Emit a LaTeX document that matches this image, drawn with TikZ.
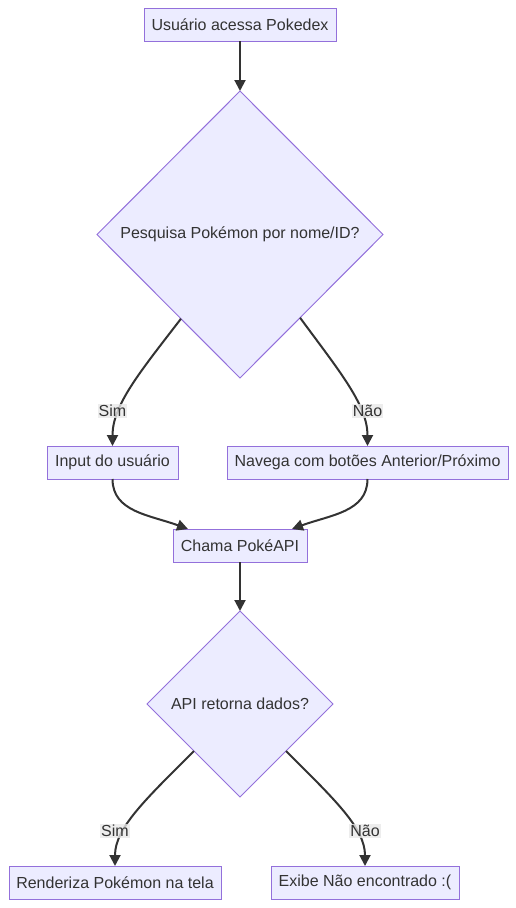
\documentclass[tikz,border=0pt]{standalone}
\usepackage{fontspec}
\setmainfont{Liberation Sans}
\usetikzlibrary{shapes.geometric,arrows.meta,calc}
\definecolor{nodefill}{HTML}{ECECFF}
\definecolor{nodeline}{HTML}{9370DB}
\definecolor{edgecol}{HTML}{333333}
\definecolor{labelbg}{HTML}{E8E8E8}
\tikzset{
  box/.style={draw=nodeline, fill=nodefill, line width=1pt, minimum height=33pt, inner xsep=0pt, inner ysep=0pt, outer sep=0pt, text=edgecol, font=\fontsize{16}{19}\selectfont},
  decision/.style={draw=nodeline, fill=nodefill, line width=1pt, shape=diamond, aspect=1, inner sep=0pt, outer sep=0pt, text=edgecol, font=\fontsize{16}{19}\selectfont},
  flow/.style={draw=edgecol, line width=2pt, -{Triangle[length=11pt,width=11pt]}},
  elabel/.style={fill=labelbg, fill opacity=0.8, text opacity=1, text=edgecol, inner sep=1pt, font=\fontsize{16}{19}\selectfont}
}
\begin{document}
\begin{tikzpicture}[x=1pt,y=-1pt]
\useasboundingbox (0,0) rectangle (516,908);
\node[box, minimum width=192pt] (n1) at (240,24.5) {Usuário acessa Pokedex};
\node[decision, minimum width=286pt, minimum height=287pt] (d1) at (240,234.5) {Pesquisa Pokémon por nome/ID?};
\node[box, minimum width=131pt] (n3) at (112.5,462.5) {Input do usuário};
\node[box, minimum width=281pt] (n4) at (367.5,462.5) {Navega com botões Anterior/Próximo};
\node[box, minimum width=134pt] (n5) at (240,545.5) {Chama PokéAPI};
\node[decision, minimum width=186pt, minimum height=186pt] (d2) at (240,704) {API retorna dados?};
\node[box, minimum width=212pt] (n7) at (115,882.5) {Renderiza Pokémon na tela};
\node[box, minimum width=188pt] (n8) at (365,882.5) {Exibe Não encontrado :(};

\coordinate (s1) at ($(d1.west)!0.587!(d1.south)$);
\coordinate (s2) at ($(d1.east)!0.58!(d1.south)$);
\coordinate (t3) at ($(n5.north west)+(15,0)$);
\coordinate (t4) at ($(n5.north east)+(-15,0)$);
\coordinate (s6) at ($(d2.west)!0.505!(d2.south)$);
\coordinate (s7) at ($(d2.east)!0.505!(d2.south)$);

\draw[flow] (n1.south) -- (d1.north);
\draw[flow] (s1) .. controls (140,372) and (112.5,405) .. (n3.north);
\draw[flow] (s2) .. controls (340,372) and (367.5,405) .. (n4.north);
\draw[flow] (n3.south) .. controls (112.5,512) and (150,515) .. (t3);
\draw[flow] (n4.south) .. controls (367.5,512) and (330,515) .. (t4);
\draw[flow] (n5.south) -- (d2.north);
\draw[flow] (s6) .. controls (145,800) and (115,828) .. (n7.north);
\draw[flow] (s7) .. controls (335,800) and (365,828) .. (n8.north);

\node[elabel] (l1) at (112.5,411) {Sim};
\node[elabel] (l2) at (367.5,411) {Não};
\node[elabel] (l3) at (115,831) {Sim};
\node[elabel] (l4) at (365,831) {Não};
\end{tikzpicture}
\end{document}
